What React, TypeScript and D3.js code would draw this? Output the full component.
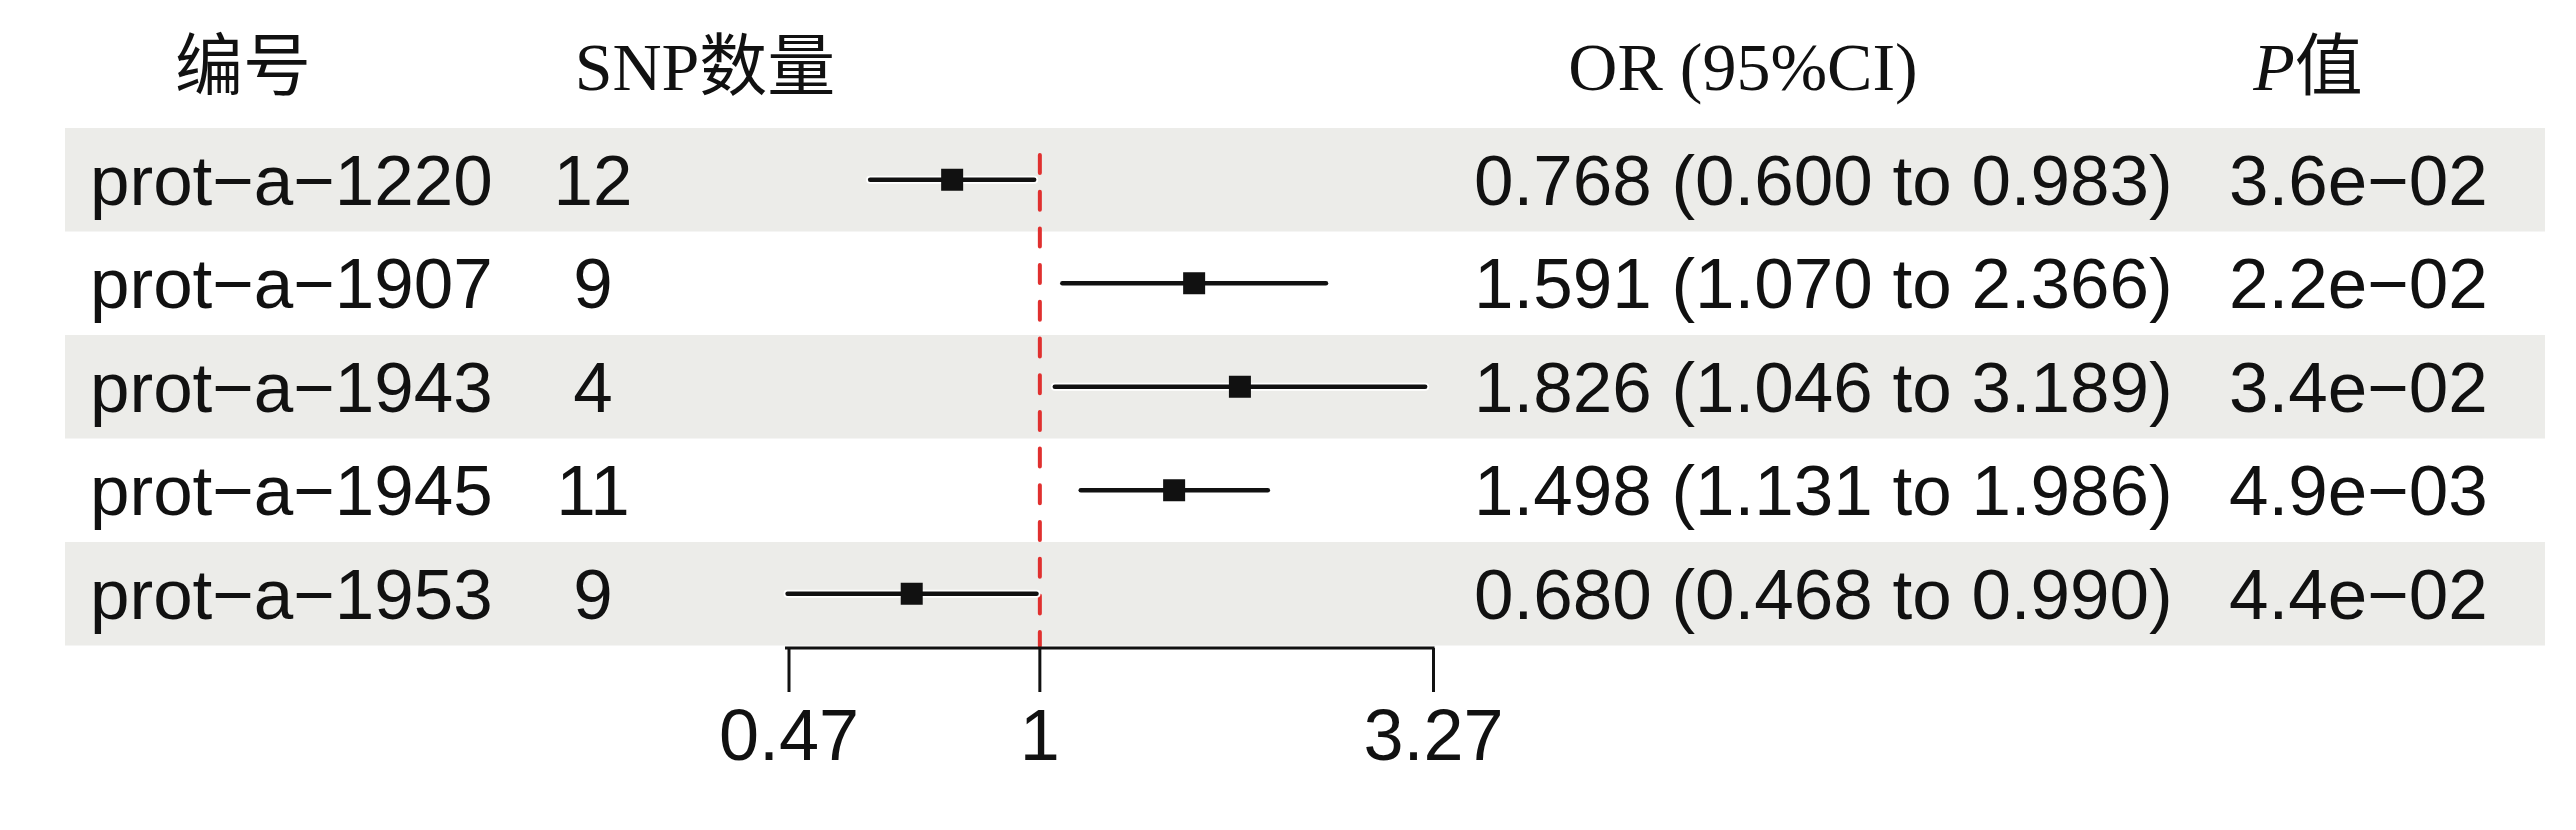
import React from "react";
import * as d3 from "d3";

const ids = ["prot\u2212a\u22121220", "prot\u2212a\u22121907", "prot\u2212a\u22121943", "prot\u2212a\u22121945", "prot\u2212a\u22121953"];
const snpCounts = [12, 9, 4, 11, 9];
const orValues = [0.768, 1.591, 1.826, 1.498, 0.68];
const lowerCI = [0.6, 1.07, 1.046, 1.131, 0.468];
const upperCI = [0.983, 2.366, 3.189, 1.986, 0.99];
const pValues = ["3.6e\u221202", "2.2e\u221202", "3.4e\u221202", "4.9e\u221203", "4.4e\u221202"];
const tickValues = [0.47, 1, 3.27];
const headers = ["编号", "SNP数量", "OR (95%CI)", "P值"];

const W = 2576;
const H = 830;
const SANS = "'Liberation Sans', Arial, sans-serif";
const SERIF = "'Liberation Serif', 'Times New Roman', 'Noto Sans CJK SC', serif";

export default function App() {
  const top = 128;
  const rowH = 103.5;
  const bandLeft = 65;
  const bandRight = 2545;
  const x = d3.scaleLog().domain([0.47, 3.27]).range([789, 1433.5]);
  const y = d3
    .scaleBand<number>()
    .domain(d3.range(ids.length))
    .range([top, top + rowH * ids.length])
    .paddingInner(0)
    .paddingOuter(0);
  const cy = (i: number) => (y(i) as number) + y.bandwidth() / 2;
  const axisY = 648;
  const sq = 22;
  const fmt = d3.format(".3f");

  return (
    <svg
      width={W}
      height={H}
      style={{ position: "absolute", left: 0, top: 0, display: "block", background: "#fff" }}
    >
      {/* bands */}
      {ids.map((_, i) =>
        i % 2 === 0 ? (
          <rect
            key={"b" + i}
            x={bandLeft}
            y={y(i)}
            width={bandRight - bandLeft}
            height={y.bandwidth()}
            fill="#ECECE9"
          />
        ) : null
      )}

      {/* headers */}
      <g fontFamily={SERIF} fontSize={68} fill="#111">
        <text x={243} y={90} textAnchor="middle">{headers[0]}</text>
        <text x={705} y={90} textAnchor="middle">{headers[1]}</text>
        <text x={1743} y={90} textAnchor="middle">{headers[2]}</text>
        <text x={2308} y={90} textAnchor="middle">
          <tspan fontStyle="italic">P</tspan>
          <tspan>值</tspan>
        </text>
      </g>

      {/* reference line */}
      <line
        x1={x(1)}
        x2={x(1)}
        y1={155}
        y2={axisY - 2}
        stroke="#E0302F"
        strokeWidth={4}
        strokeDasharray="18 18.7"
        strokeLinecap="round"
      />

      {/* CI lines and points */}
      {ids.map((_, i) => (
        <g key={"m" + i}>
          <line
            x1={x(lowerCI[i])}
            x2={x(upperCI[i])}
            y1={cy(i)}
            y2={cy(i)}
            stroke="#fff"
            strokeWidth={8}
            strokeLinecap="round"
          />
          <line
            x1={x(lowerCI[i])}
            x2={x(upperCI[i])}
            y1={cy(i)}
            y2={cy(i)}
            stroke="#111"
            strokeWidth={4.5}
            strokeLinecap="round"
          />
          <rect
            x={x(orValues[i]) - sq / 2}
            y={cy(i) - sq / 2}
            width={sq}
            height={sq}
            fill="#111"
          />
        </g>
      ))}

      {/* axis */}
      <g stroke="#111" strokeWidth={3}>
        <line x1={x(0.47) - 4} x2={x(3.27) + 1} y1={axisY} y2={axisY} />
        {tickValues.map((t) => (
          <line key={"t" + t} x1={x(t)} x2={x(t)} y1={axisY} y2={692} />
        ))}
      </g>
      <g fontFamily={SANS} fontSize={72} fill="#111" textAnchor="middle">
        {tickValues.map((t) => (
          <text key={"tl" + t} x={x(t)} y={760}>
            {String(t)}
          </text>
        ))}
      </g>

      {/* row texts */}
      <g fontFamily={SANS} fontSize={71} fill="#111">
        {ids.map((id, i) => (
          <g key={"r" + i}>
            <text x={90} y={cy(i) + 25}>{id}</text>
            <text x={593} y={cy(i) + 25} textAnchor="middle">{snpCounts[i]}</text>
            <text x={1474} y={cy(i) + 25}>
              {`${fmt(orValues[i])} (${fmt(lowerCI[i])} to ${fmt(upperCI[i])})`}
            </text>
            <text x={2229} y={cy(i) + 25}>{pValues[i]}</text>
          </g>
        ))}
      </g>
    </svg>
  );
}
